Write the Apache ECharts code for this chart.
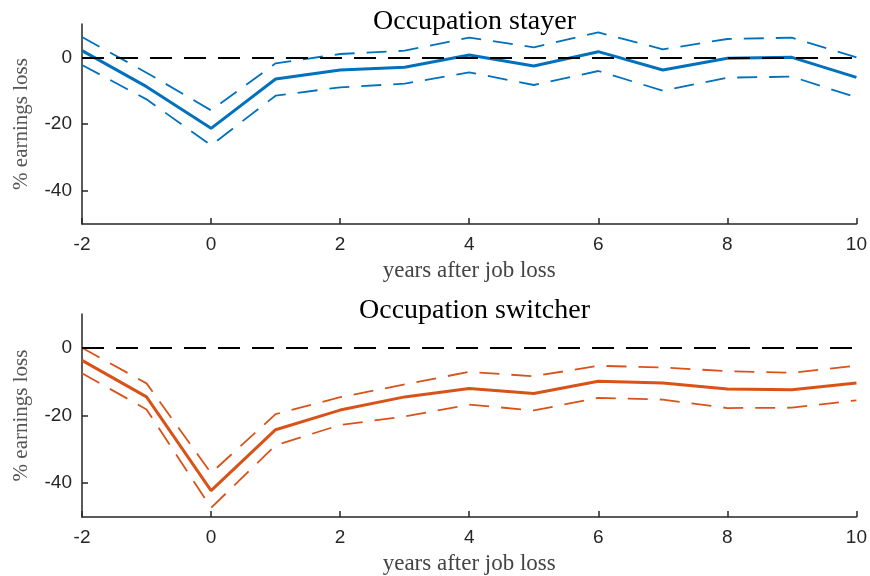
<!DOCTYPE html>
<html>
<head>
<meta charset="utf-8">
<script src="https://cdn.jsdelivr.net/npm/echarts@6/dist/echarts.min.js"></script>
<style>
html,body{margin:0;padding:0;background:#fff;}
#chart{width:870px;height:576px;}
</style>
</head>
<body>
<div id="chart"></div>
<script>
const years = [-2,-1,0,1,2,3,4,5,6,7,8,9,10];
const xTicks = [-2,0,2,4,6,8,10];
const yTicks = [-40,-20,0];

const stayerMain  = [2.0,-8.8,-21.3,-6.5,-3.8,-3.0,0.7,-2.6,1.7,-3.8,-0.3,0.0,-6.0];
const stayerUpper = [6.1,-4.6,-15.9,-1.8,1.0,2.0,5.9,3.0,7.5,2.4,5.5,5.9,0.0];
const stayerLower = [-2.3,-12.6,-26.4,-11.5,-9.0,-7.9,-4.5,-8.3,-4.1,-10.0,-6.1,-5.8,-12.0];

const switcherMain  = [-3.7,-14.5,-42.2,-24.2,-18.4,-14.5,-12.0,-13.5,-9.9,-10.4,-12.2,-12.4,-10.4];
const switcherUpper = [0.0,-10.5,-37.0,-19.6,-14.6,-10.8,-7.1,-8.4,-5.3,-5.8,-6.9,-7.4,-5.3];
const switcherLower = [-7.5,-18.2,-47.3,-28.8,-22.8,-20.3,-16.8,-18.5,-14.8,-15.3,-17.8,-17.7,-15.5];

const titles = ['Occupation stayer','Occupation switcher'];
const xName = 'years after job loss';
const yName = '% earnings loss';

const BLUE = '#0072BD', ORANGE = '#D95319';
const pairs = arr => years.map((y,i)=>[y,arr[i]]);
const serif = '"Liberation Serif", "DejaVu Serif", serif';
const sans = '"Liberation Sans", Arial, Helvetica, sans-serif';

const grids = [
  {left:82, right:13, top:24, height:200},
  {left:82, right:13, top:314, height:203}
];

function xAxisDef(idx){
  return {
    type:'value', gridIndex:idx, min:-2, max:10, interval:2,
    name:xName, nameLocation:'middle', nameGap:35,
    nameTextStyle:{fontFamily:serif, fontSize:23, color:'#444'},
    axisLine:{onZero:false, lineStyle:{color:'#262626', width:1.5}},
    axisTick:{inside:true, length:6, lineStyle:{color:'#262626', width:1.5}},
    axisLabel:{fontFamily:sans, fontSize:19, color:'#262626', margin:11},
    splitLine:{show:false}
  };
}
function yAxisDef(idx){
  return {
    type:'value', gridIndex:idx, min:-50, max:10,
    name:yName, nameLocation:'middle', nameGap:50, nameRotate:90,
    nameTextStyle:{fontFamily:serif, fontSize:21, color:'#555'},
    axisLine:{show:true, onZero:false, lineStyle:{color:'#262626', width:1.5}},
    axisTick:{show:true, inside:true, length:6, customValues:yTicks, lineStyle:{color:'#262626', width:1.5}},
    axisLabel:{fontFamily:sans, fontSize:19, color:'#262626', margin:10, customValues:yTicks},
    splitLine:{show:false}
  };
}
function zeroLine(idx){
  return {
    type:'line', xAxisIndex:idx, yAxisIndex:idx, data:[], silent:true,
    markLine:{symbol:'none', silent:true, label:{show:false},
      lineStyle:{color:'#000', type:[22,12], width:2},
      data:[{yAxis:0}]}
  };
}
function band(idx, arr, color){
  return {type:'line', xAxisIndex:idx, yAxisIndex:idx, data:pairs(arr), symbol:'none',
    lineStyle:{color:color, width:1.8, type:[20,12]}, z:3};
}
function main(idx, arr, color){
  return {type:'line', xAxisIndex:idx, yAxisIndex:idx, data:pairs(arr), symbol:'none',
    lineStyle:{color:color, width:3}, z:4};
}

const chart = echarts.init(document.getElementById('chart'), null, {renderer:'canvas'});
chart.setOption({
  animation:false,
  backgroundColor:'#fff',
  title:[
    {text:titles[0], left:469.5, textAlign:'center', top:3,
      textStyle:{fontFamily:serif, fontSize:28, fontWeight:'normal', color:'#000'}},
    {text:titles[1], left:469.5, textAlign:'center', top:292,
      textStyle:{fontFamily:serif, fontSize:28, fontWeight:'normal', color:'#000'}}
  ],
  grid:grids,
  xAxis:[xAxisDef(0), xAxisDef(1)],
  yAxis:[yAxisDef(0), yAxisDef(1)],
  series:[
    zeroLine(0),
    band(0, stayerUpper, BLUE),
    band(0, stayerLower, BLUE),
    main(0, stayerMain, BLUE),
    zeroLine(1),
    band(1, switcherUpper, ORANGE),
    band(1, switcherLower, ORANGE),
    main(1, switcherMain, ORANGE)
  ]
});
</script>
</body>
</html>
